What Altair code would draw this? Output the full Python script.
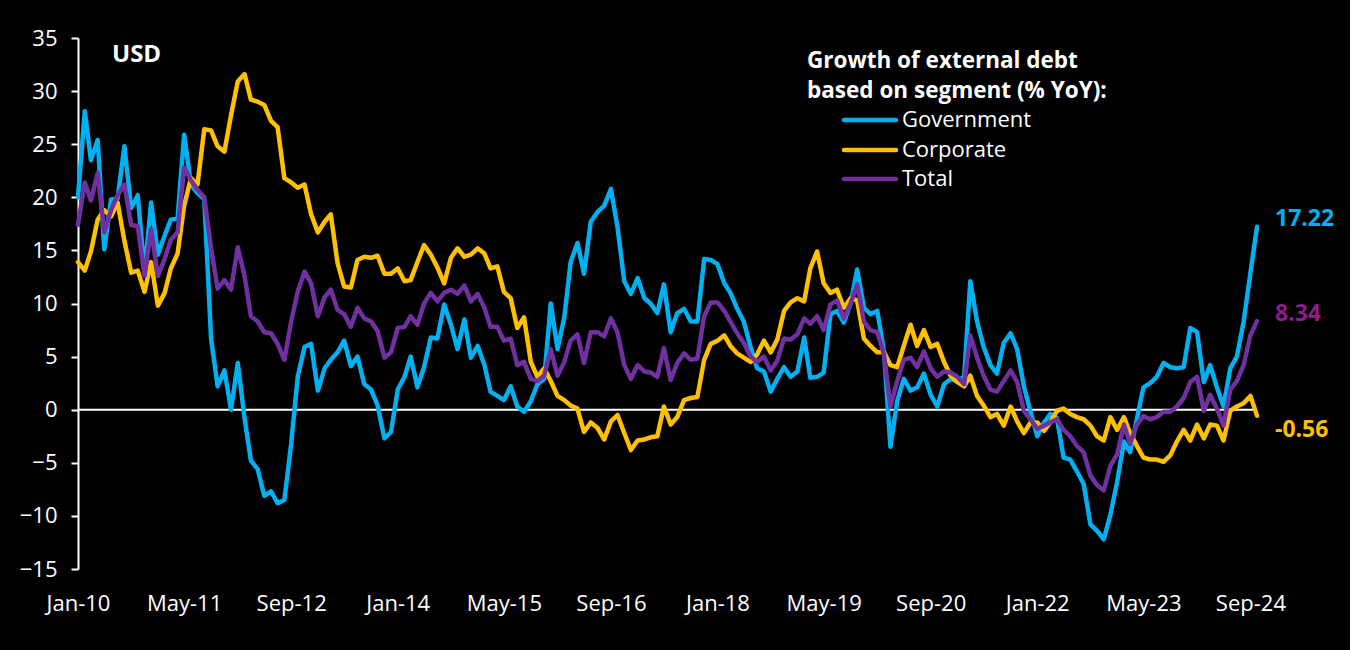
import altair as alt
import pandas as pd

# Monthly data Jan-2010 .. Oct-2024 (178 months)
start_month = "2010-01-01"

government = [
    20.0, 28.1, 23.5, 25.4, 15.1, 19.8, 19.9, 24.8, 19.0, 20.2,
    12.9, 19.5, 14.6, 16.4, 17.9, 18.0, 25.9, 21.2, 20.4, 19.8,
    6.7, 2.2, 3.7, 0.0, 4.4, -0.8, -4.8, -5.6, -8.1, -7.7,
    -8.8, -8.5, -3.2, 3.1, 5.9, 6.2, 1.8, 3.9, 4.7, 5.4,
    6.5, 4.1, 5.0, 2.4, 1.9, 0.4, -2.7, -2.1, 1.9, 3.1,
    5.0, 2.1, 4.0, 6.8, 6.7, 9.9, 8.0, 5.7, 8.5, 4.9,
    6.0, 4.2, 1.7, 1.3, 0.9, 2.2, 0.3, -0.2, 0.8, 2.4,
    2.9, 10.0, 5.7, 8.7, 13.9, 15.7, 12.8, 17.7, 18.6, 19.2,
    20.8, 17.2, 12.1, 10.9, 12.4, 10.5, 10.0, 9.1, 11.8, 7.3,
    9.1, 9.5, 8.3, 8.3, 14.2, 14.1, 13.7, 11.9, 11.0, 9.5,
    8.3, 5.9, 3.9, 3.6, 1.7, 2.9, 4.0, 3.1, 3.6, 6.8,
    3.0, 3.1, 3.5, 9.0, 9.3, 8.2, 10.0, 13.2, 9.6, 9.0,
    9.3, 5.4, -3.5, 0.8, 2.9, 1.8, 2.1, 3.4, 1.4, 0.3,
    2.4, 2.9, 2.7, 3.1, 12.1, 8.3, 5.9, 4.2, 3.4, 6.3,
    7.2, 5.7, 2.2, -0.2, -2.5, -1.2, -0.4, -0.8, -4.5, -4.7,
    -5.8, -7.0, -10.8, -11.4, -12.2, -9.9, -6.8, -3.0, -4.0, -0.9,
    2.1, 2.5, 3.1, 4.4, 4.0, 3.9, 4.0, 7.7, 7.3, 2.6,
    4.2, 2.1, 0.3, 3.9, 5.0, 8.3, 12.9, 17.22,
]

corporate = [
    13.9, 13.1, 14.9, 17.9, 18.8, 18.2, 19.5, 15.9, 12.9, 13.1,
    11.1, 13.9, 9.8, 11.0, 13.3, 14.7, 19.2, 21.8, 21.2, 26.4,
    26.3, 24.8, 24.3, 27.7, 30.9, 31.6, 29.2, 29.0, 28.7, 27.2,
    26.6, 21.8, 21.4, 20.9, 21.2, 18.4, 16.7, 17.7, 18.4, 13.8,
    11.6, 11.5, 14.1, 14.4, 14.3, 14.5, 12.8, 12.8, 13.3, 12.1,
    12.2, 13.9, 15.5, 14.6, 13.4, 11.9, 14.3, 15.2, 14.4, 14.6,
    15.2, 14.7, 13.3, 13.5, 11.1, 10.5, 7.7, 8.7, 4.5, 3.1,
    3.9, 2.7, 1.3, 0.9, 0.4, 0.1, -2.1, -1.2, -1.7, -2.8,
    -1.1, -0.5, -2.2, -3.8, -2.9, -2.8, -2.6, -2.5, 0.3, -1.4,
    -0.7, 0.9, 1.1, 1.2, 4.7, 6.2, 6.5, 7.0, 6.0, 5.3,
    4.9, 4.5, 5.2, 6.5, 5.4, 6.6, 9.3, 10.1, 10.5, 10.2,
    13.3, 14.9, 11.9, 11.0, 11.3, 9.6, 10.5, 10.3, 6.7, 6.0,
    5.4, 5.4, 4.2, 4.0, 6.0, 8.0, 6.0, 7.5, 5.9, 6.2,
    4.5, 3.2, 2.6, 2.2, 3.2, 1.3, 0.4, -0.7, -0.4, -1.5,
    0.3, -1.1, -2.2, -1.2, -1.2, -2.0, -1.2, -0.1, 0.1, -0.4,
    -0.7, -0.9, -1.5, -2.5, -2.9, -0.7, -1.9, -0.7, -2.2, -3.4,
    -4.5, -4.7, -4.7, -4.9, -4.3, -3.0, -1.9, -2.9, -1.4, -2.7,
    -1.4, -1.5, -2.9, -0.1, 0.3, 0.6, 1.3, -0.56,
]

total = [
    17.4, 21.4, 19.7, 22.3, 16.7, 18.8, 20.2, 21.2, 17.4, 17.3,
    12.6, 17.0, 12.6, 14.2, 16.0, 16.7, 22.8, 21.6, 20.7, 20.0,
    15.2, 11.4, 12.2, 11.3, 15.3, 12.6, 8.8, 8.3, 7.3, 7.2,
    6.2, 4.7, 8.3, 11.1, 13.0, 11.9, 8.8, 10.6, 11.3, 9.4,
    9.0, 7.8, 9.6, 8.6, 8.3, 7.4, 4.9, 5.4, 7.7, 7.8,
    8.8, 8.0, 10.0, 11.0, 10.2, 11.0, 11.3, 10.9, 11.7, 10.2,
    10.9, 9.6, 7.8, 7.8, 6.5, 6.7, 4.2, 4.5, 2.9, 2.7,
    3.2, 5.7, 3.2, 4.5, 6.5, 7.1, 4.4, 7.3, 7.3, 6.9,
    8.6, 7.3, 4.2, 2.9, 4.2, 3.6, 3.5, 3.1, 5.8, 2.8,
    4.4, 5.3, 4.7, 4.8, 8.8, 10.1, 10.1, 9.3, 8.3, 7.2,
    6.3, 5.0, 4.5, 5.0, 3.7, 4.6, 6.7, 6.6, 7.1, 8.6,
    8.1, 8.8, 7.5, 9.9, 10.3, 8.6, 10.0, 11.8, 8.3, 7.5,
    7.3, 5.2, 0.3, 2.7, 4.7, 4.9, 4.0, 5.5, 3.9, 3.1,
    3.6, 3.5, 3.1, 2.4, 7.0, 4.9, 3.2, 1.9, 1.7, 2.7,
    3.7, 2.6, -0.1, -0.9, -1.8, -1.5, -1.2, -0.9, -1.9, -2.5,
    -3.4, -4.0, -6.2, -7.1, -7.6, -5.3, -4.2, -1.4, -3.2, -1.4,
    -0.6, -0.9, -0.7, -0.2, -0.2, 0.3, 1.1, 2.6, 3.1, -0.1,
    1.4, 0.1, -1.5, 1.9, 2.7, 4.2, 7.0, 8.34,
]

series_names = ["Government", "Corporate", "Total"]
series_colors = ["#00B0F0", "#FFC000", "#7030A0"]
label_colors = ["#00B0F0", "#FFC000", "#8A1E8A"]
tick_years_months = [(2010, 1), (2011, 5), (2012, 9), (2014, 1), (2015, 5), (2016, 9),
                     (2018, 1), (2019, 5), (2020, 9), (2022, 1), (2023, 5), (2024, 9)]
y_ticks = [-15, -10, -5, 0, 5, 10, 15, 20, 25, 30, 35]
heading_lines = ["Growth of external debt", "based on segment (% YoY):"]

dates = pd.date_range(start_month, periods=len(government), freq="MS")
frames = []
for name, vals in zip(series_names, [government, corporate, total]):
    frames.append(pd.DataFrame({"date": dates, "series": name, "value": vals}))
df = pd.concat(frames, ignore_index=True)

FONT = "Open Sans"
WHITE = "white"

x_scale = alt.Scale(domain=[alt.DateTime(year=2010, month=1, date=1),
                            alt.DateTime(year=2024, month=10, date=1)], nice=False)
y_scale = alt.Scale(domain=[-15, 35], nice=False)

x_enc = alt.X(
    "date:T", scale=x_scale,
    axis=alt.Axis(
        values=[alt.DateTime(year=y, month=m, date=1) for y, m in tick_years_months],
        format="%b-%y", labelAngle=0, domain=False, ticks=False, grid=False,
        labelPadding=24, labelFont=FONT, labelFontSize=22, labelColor=WHITE,
        title=None, labelOverlap=False, labelFlush=False,
    ),
)
y_enc = alt.Y(
    "value:Q", scale=y_scale,
    axis=alt.Axis(
        values=y_ticks, grid=False, domainColor=WHITE, domainWidth=2,
        tickColor=WHITE, tickWidth=2, tickSize=7, labelPadding=14,
        labelFont=FONT, labelFontSize=22, labelColor=WHITE, title=None,
        labelFlush=False,
    ),
)
color_enc = alt.Color(
    "series:N",
    scale=alt.Scale(domain=series_names, range=series_colors),
    legend=None,
)

zero_rule = alt.Chart(pd.DataFrame({"value": [0]})).mark_rule(color=WHITE, strokeWidth=2).encode(
    y=y_enc
)

line_layers = []
for name in series_names:
    line_layers.append(
        alt.Chart(df).transform_filter(alt.datum.series == name)
        .mark_line(strokeWidth=4.5, strokeJoin="round", strokeCap="round")
        .encode(x=x_enc, y=y_enc, color=color_enc)
    )

end_vals = [government[-1], corporate[-1], total[-1]]
end_dy = [-8, 14, -7]
label_layers = []
for name, val, col, dy in zip(series_names, end_vals, label_colors, end_dy):
    ldf = pd.DataFrame({"date": [dates[-1]], "value": [val], "label": [f"{val:.2f}"]})
    label_layers.append(
        alt.Chart(ldf).mark_text(
            align="left", baseline="middle", dx=18, dy=dy, font=FONT,
            fontSize=23, fontWeight="bold", color=col,
        ).encode(x=x_enc, y=y_enc, text="label:N")
    )

usd = alt.Chart(pd.DataFrame({"t": ["USD"]})).mark_text(
    align="left", baseline="middle", font=FONT, fontSize=24, fontWeight="bold", color=WHITE
).encode(x=alt.value(34), y=alt.value(17), text="t:N")

heading_layers = []
for line_txt, yy in zip(heading_lines, [23, 53]):
    heading_layers.append(
        alt.Chart(pd.DataFrame({"t": [line_txt]})).mark_text(
            align="left", baseline="middle", font=FONT, fontSize=22.5, fontWeight="bold", color=WHITE
        ).encode(x=alt.value(729), y=alt.value(yy), text="t:N")
    )

# manual legend: line swatch + label for each series
legend_layers = []
for name, col, yy in zip(series_names, series_colors, [82, 112, 141]):
    legend_layers.append(
        alt.Chart(pd.DataFrame({"t": [name]})).mark_rule(
            color=col, strokeWidth=4.5, strokeCap="round"
        ).encode(x=alt.value(766), x2=alt.value(818), y=alt.value(yy))
    )
    legend_layers.append(
        alt.Chart(pd.DataFrame({"t": [name]})).mark_text(
            align="left", baseline="middle", font=FONT, fontSize=22, color=WHITE
        ).encode(x=alt.value(824), y=alt.value(yy), text="t:N")
    )

chart = alt.layer(
    zero_rule, *line_layers, *label_layers, usd, *heading_layers, *legend_layers
).properties(
    width=1179, height=531,
    padding={"left": 78, "top": 38, "right": 93, "bottom": 81},
    autosize=alt.AutoSizeParams(type="none"),
    background="black",
).configure_view(strokeWidth=0).configure_axis(grid=False)

chart.save("out.html", embed_options={"renderer": "svg", "actions": False})
